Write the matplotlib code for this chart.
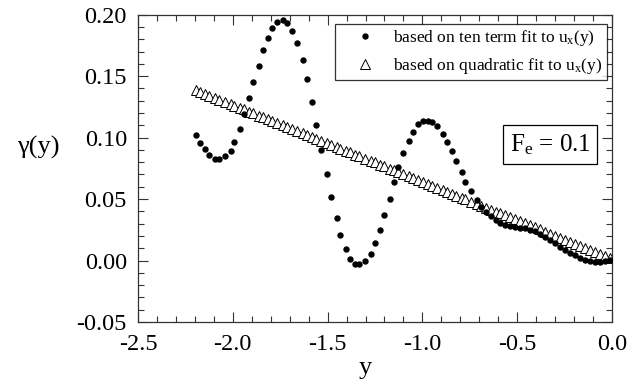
import numpy as np
import matplotlib
matplotlib.use('Agg')
import matplotlib.pyplot as plt
from matplotlib.ticker import MultipleLocator

plt.rcParams['font.family'] = ['Liberation Serif', 'DejaVu Serif']
plt.rcParams['mathtext.fontset'] = 'custom'
plt.rcParams['mathtext.rm'] = 'Liberation Serif'
plt.rcParams['mathtext.it'] = 'Liberation Serif:italic'

# values
y_pos = [-2.193, -2.172, -2.144, -2.123, -2.095, -2.072, -2.042, -2.012, -1.993, -1.963,
         -1.942, -1.914, -1.893, -1.863, -1.842, -1.814, -1.793, -1.765, -1.735, -1.714,
         -1.686, -1.661, -1.631, -1.610, -1.581, -1.563, -1.533, -1.503, -1.484, -1.452,
         -1.433, -1.403, -1.383, -1.354, -1.334, -1.303, -1.273, -1.252, -1.224, -1.203,
         -1.173, -1.152, -1.127, -1.102, -1.072, -1.051, -1.022, -0.995, -0.970, -0.947,
         -0.923, -0.893, -0.872, -0.842, -0.823, -0.793, -0.774, -0.744, -0.714, -0.691,
         -0.665, -0.638, -0.613, -0.591, -0.564, -0.538, -0.512, -0.485, -0.459, -0.433,
         -0.406, -0.380, -0.353, -0.327, -0.301, -0.274, -0.248, -0.221, -0.195, -0.169,
         -0.142, -0.116, -0.090, -0.063, -0.037, -0.011]

gamma_ten = [0.1023, 0.0958, 0.0904, 0.0857, 0.0830, 0.0825, 0.0849, 0.0895, 0.0968, 0.1072,
             0.1191, 0.1319, 0.1454, 0.1585, 0.1709, 0.1810, 0.1892, 0.1937, 0.1954, 0.1932,
             0.1870, 0.1767, 0.1630, 0.1476, 0.1290, 0.1100, 0.0899, 0.0704, 0.0514, 0.0349,
             0.0207, 0.0093, 0.0015, -0.0026, -0.0032, -0.0005, 0.0055, 0.0142, 0.0251, 0.0373,
             0.0504, 0.0639, 0.0761, 0.0875, 0.0971, 0.1048, 0.1107, 0.1134, 0.1136, 0.1126,
             0.1093, 0.1033, 0.0965, 0.0892, 0.0808, 0.0724, 0.0639, 0.0563, 0.0490, 0.0435,
             0.0396, 0.0362, 0.0327, 0.0305, 0.0292, 0.0280, 0.0272, 0.0267, 0.0262, 0.0251,
             0.0237, 0.0213, 0.0191, 0.0164, 0.0142, 0.0109, 0.0082, 0.0060, 0.0042, 0.0023,
             0.0006, -0.0005, -0.0010, -0.0008, -0.0002, 0.0001]

gamma_quad = [0.1386, 0.1373, 0.1355, 0.1342, 0.1324, 0.1310, 0.1291, 0.1273, 0.1261, 0.1242,
              0.1229, 0.1211, 0.1198, 0.1179, 0.1166, 0.1149, 0.1136, 0.1118, 0.1099, 0.1086,
              0.1069, 0.1053, 0.1034, 0.1021, 0.1003, 0.0992, 0.0973, 0.0954, 0.0943, 0.0923,
              0.0911, 0.0892, 0.0879, 0.0861, 0.0849, 0.0829, 0.0811, 0.0798, 0.0780, 0.0767,
              0.0748, 0.0735, 0.0719, 0.0704, 0.0685, 0.0672, 0.0654, 0.0637, 0.0621, 0.0607,
              0.0592, 0.0573, 0.0560, 0.0541, 0.0529, 0.0511, 0.0499, 0.0480, 0.0461, 0.0447,
              0.0431, 0.0414, 0.0398, 0.0384, 0.0368, 0.0351, 0.0335, 0.0318, 0.0302, 0.0286,
              0.0269, 0.0253, 0.0236, 0.0219, 0.0203, 0.0186, 0.0170, 0.0153, 0.0137, 0.0121,
              0.0104, 0.0088, 0.0071, 0.0054, 0.0038, 0.0022]

x_ticks = [-2.5, -2.0, -1.5, -1.0, -0.5, 0.0]
y_ticks = [-0.05, 0.00, 0.05, 0.10, 0.15, 0.20]

fig = plt.figure(figsize=(6.41, 3.84), dpi=100)
ax = fig.add_axes([138/641, 1 - 322/384, 474/641, 307.3/384])

ax.plot(y_pos, gamma_quad, linestyle='none', marker='^', ms=6.5, mfc='white',
        mec='black', mew=0.7, label=r'based on quadratic fit to u$_{\mathrm{x}}$(y)', zorder=2)
ax.plot(y_pos, gamma_ten, linestyle='none', marker='o', ms=4.6, mfc='black',
        mec='black', mew=0, label=r'based on ten term fit to u$_{\mathrm{x}}$(y)', zorder=3)

ax.set_xlim(-2.5, 0.0)
ax.set_ylim(-0.05, 0.20)
ax.set_xticks(x_ticks)
ax.set_yticks(y_ticks)
ax.set_xticklabels([f'{v:.1f}' for v in x_ticks])
ax.set_yticklabels([f'{v:.2f}' for v in y_ticks])
ax.xaxis.set_minor_locator(MultipleLocator(0.1))
ax.yaxis.set_minor_locator(MultipleLocator(0.01))
ax.tick_params(which='both', direction='in', top=True, right=True, width=0.8, colors='#333333')
ax.tick_params(which='major', length=7, labelsize=17.5, pad=9, labelcolor='black')
ax.tick_params(axis='y', which='major', pad=8)
ax.tick_params(which='minor', length=4)
for sp in ax.spines.values():
    sp.set_linewidth(0.9)
    sp.set_color('#333333')

ax.set_xlabel('y', fontsize=19, labelpad=2)
ax.xaxis.set_label_coords(0.479, -0.115)
ax.set_ylabel('γ(y)', fontsize=19, rotation=0, labelpad=0)
ax.yaxis.set_label_coords(-0.21, 0.53)

handles, labels = ax.get_legend_handles_labels()
leg = ax.legend(handles[::-1], labels[::-1], loc='upper right',
                bbox_to_anchor=(0.989, 0.970), borderaxespad=0, fontsize=12.5,
                frameon=True, fancybox=False, edgecolor='black', handlelength=2.9,
                handletextpad=0.2, borderpad=0.25, labelspacing=0.45)
leg.get_frame().set_linewidth(0.9)

ax.text(0.869, 0.578, r'F$_{\mathrm{e}}$ = 0.1', transform=ax.transAxes, fontsize=18,
        ha='center', va='center',
        bbox=dict(boxstyle='square,pad=0.28', fc='white', ec='black', lw=0.9))

fig.savefig('out.png', dpi=100)
